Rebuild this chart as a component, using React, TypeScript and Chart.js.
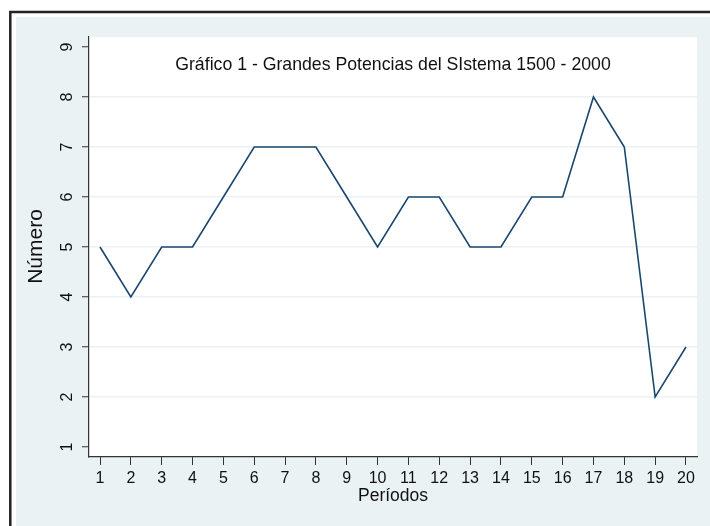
import React, { useEffect, useRef } from "react";
import { Chart, registerables } from "chart.js";

Chart.register(...registerables);

const periods = [1, 2, 3, 4, 5, 6, 7, 8, 9, 10, 11, 12, 13, 14, 15, 16, 17, 18, 19, 20];
const values = [5, 4, 5, 5, 6, 7, 7, 7, 6, 5, 6, 6, 5, 5, 6, 6, 8, 7, 2, 3];
const yTickValues = [1, 2, 3, 4, 5, 6, 7, 8, 9];
const titleText = "Gráfico 1 - Grandes Potencias del SIstema 1500 - 2000";
const yTitle = "Número";
const xTitle = "Períodos";

const FONT = "'Liberation Sans', Arial, sans-serif";

export default function App() {
  const ref = useRef<HTMLCanvasElement | null>(null);

  useEffect(() => {
    const canvas = ref.current;
    if (!canvas) return;

    const decor = {
      id: "decor",
      beforeDraw(chart: any) {
        const { ctx, chartArea } = chart;
        ctx.save();
        ctx.fillStyle = "#ffffff";
        ctx.fillRect(0, 0, 710, 526);
        ctx.strokeStyle = "#222222";
        ctx.lineWidth = 2.5;
        ctx.strokeRect(10.3, 12, 720, 540);
        ctx.fillStyle = "#EAF2F3";
        ctx.fillRect(16, 17, 694, 509);
        ctx.fillStyle = "#ffffff";
        ctx.fillRect(chartArea.left, chartArea.top, chartArea.right - chartArea.left, chartArea.bottom - chartArea.top);
        ctx.restore();
      },
      afterDraw(chart: any) {
        const { ctx, chartArea, scales } = chart;
        const y = scales.y;
        ctx.save();
        ctx.fillStyle = "#111111";
        ctx.textAlign = "center";
        ctx.textBaseline = "middle";
        ctx.font = `17.7px ${FONT}`;
        ctx.fillText(titleText, (chartArea.left + chartArea.right) / 2, 65.5);
        ctx.font = `17.5px ${FONT}`;
        ctx.fillText(xTitle, (chartArea.left + chartArea.right) / 2, 496.5);
        ctx.font = `16px ${FONT}`;
        for (const v of yTickValues) {
          ctx.save();
          ctx.translate(67.5, y.getPixelForValue(v));
          ctx.rotate(-Math.PI / 2);
          ctx.fillText(String(v), 0, 0);
          ctx.restore();
        }
        ctx.font = `21px ${FONT}`;
        ctx.save();
        ctx.translate(36, 246.5);
        ctx.rotate(-Math.PI / 2);
        ctx.fillText(yTitle, 0, 0);
        ctx.restore();
        ctx.restore();
      },
    };

    const chart = new Chart(canvas, {
      type: "line",
      data: {
        datasets: [
          {
            data: periods.map((p, i) => ({ x: p, y: values[i] })),
            borderColor: "#1A476F",
            borderWidth: 1.6,
            pointRadius: 0,
            tension: 0,
            fill: false,
          },
        ],
      },
      options: {
        responsive: false,
        animation: false,
        devicePixelRatio: 1,
        layout: { padding: { left: 0, top: 37, right: 13, bottom: 0 } },
        plugins: { legend: { display: false }, tooltip: { enabled: false }, title: { display: false } },
        scales: {
          x: {
            type: "linear",
            min: 0.643,
            max: 20.357,
            afterBuildTicks: (s: any) => {
              s.ticks = periods.map((v) => ({ value: v }));
            },
            afterFit: (s: any) => {
              s.height = 69;
            },
            grid: { drawOnChartArea: false, drawTicks: true, tickLength: 8, tickColor: "#333333", tickWidth: 1 },
            border: { display: true, color: "#333333", width: 1.2 },
            ticks: {
              autoSkip: false,
              maxRotation: 0,
              minRotation: 0,
              padding: 4,
              color: "#111111",
              font: { family: FONT, size: 16 },
              callback: (v: any) => String(v),
            },
          },
          y: {
            type: "linear",
            min: 0.8,
            max: 9.2,
            afterBuildTicks: (s: any) => {
              s.ticks = yTickValues.map((v) => ({ value: v }));
            },
            afterFit: (s: any) => {
              s.width = 89;
            },
            grid: {
              drawOnChartArea: true,
              drawTicks: true,
              tickLength: 7,
              tickColor: "#333333",
              tickWidth: 1,
              lineWidth: 1.5,
              color: (c: any) => (c.tick && (c.tick.value === 1 || c.tick.value === 9) ? "rgba(0,0,0,0)" : "#EAF2F3"),
            },
            border: { display: true, color: "#333333", width: 1.2 },
            ticks: { color: "rgba(0,0,0,0)", font: { family: FONT, size: 16 } },
          },
        },
      },
      plugins: [decor],
    });

    return () => chart.destroy();
  }, []);

  return (
    <div style={{ position: "fixed", left: 0, top: 0, width: 710, height: 526 }}>
      <canvas ref={ref} width={710} height={526} style={{ display: "block", width: 710, height: 526 }} />
    </div>
  );
}
